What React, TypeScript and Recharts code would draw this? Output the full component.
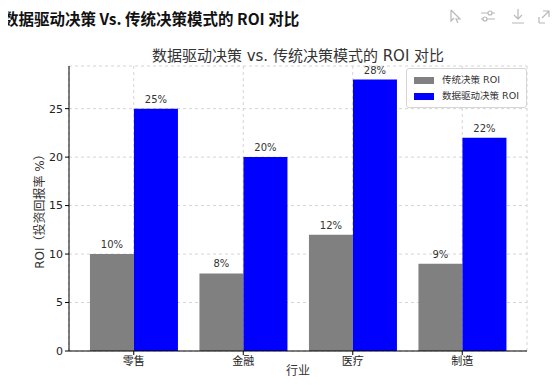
import {Bar, BarChart, CartesianGrid, Label, LabelList, XAxis, YAxis} from "recharts";

const industries = ['零售', '金融', '医疗', '制造'];
const traditionalRoi = [10, 8, 12, 9];
const dataDrivenRoi = [25, 20, 28, 22];
const yTicks = [0, 5, 10, 15, 20, 25];

const data = industries.map((name, i) => ({
    name,
    traditional: traditionalRoi[i],
    dataDriven: dataDrivenRoi[i],
}));

const font = '"DejaVu Sans", "Noto Sans CJK SC", sans-serif';

const LegendBox = () => (
    <div style={{
        position: 'absolute', right: 31, top: 68,
        border: '1px solid #d6d6d6', borderRadius: 3, background: 'rgba(255,255,255,0.8)',
        padding: '3px 7px', fontFamily: font, fontSize: 9.5, color: '#333', lineHeight: '16px'
    }}>
        <div style={{display: 'flex', alignItems: 'center'}}>
            <span style={{width: 20, height: 7, background: '#808080', marginRight: 8}}/>传统决策 ROI
        </div>
        <div style={{display: 'flex', alignItems: 'center'}}>
            <span style={{width: 20, height: 7, background: '#0000ff', marginRight: 8}}/>数据驱动决策 ROI
        </div>
    </div>
);

const Icons = () => (
    <svg width={110} height={20} style={{position: 'absolute', left: 446, top: 6}}>
        <g stroke="#b8b8b8" strokeWidth={1.2} fill="none">
            <path d="M5 4 L14 13 L10 13 L12 17 M5 4 L5 15 L8 12"/>
            <path d="M35 7 H49 M35 13 H49"/>
            <circle cx={44} cy={7} r={2} fill="#fff"/>
            <circle cx={39} cy={13} r={2} fill="#fff"/>
            <path d="M72 3 V13 M68 9 L72 13 L76 9 M66 17 H78"/>
            <path d="M97 5 H103 V11 M103 5 L96 12 M93 17 V11 M93 17 H99"/>
        </g>
    </svg>
);

export default function App() {
    return (
        <div style={{position: 'relative', width: 558, height: 385, margin: -8, background: '#fff', overflow: 'hidden'}}>
            <div style={{
                position: 'absolute', left: 3, top: 7, fontFamily: '"Noto Sans CJK SC", sans-serif',
                fontWeight: 700, fontSize: 15.5, color: '#111', whiteSpace: 'nowrap'
            }}>
                数据驱动决策 Vs. 传统决策模式的 ROI 对比
            </div>
            <Icons/>
            <div style={{
                position: 'absolute', left: 69, width: 458, top: 44, textAlign: 'center',
                fontFamily: font, fontSize: 15, color: '#333', whiteSpace: 'nowrap'
            }}>
                数据驱动决策 vs. 传统决策模式的 ROI 对比
            </div>
            <div style={{position: 'absolute', top: 0, left: 0}}>
                <BarChart width={558} height={385} data={data}
                          margin={{top: 66, right: 31, bottom: 1, left: 29}}
                          barCategoryGap="10%" barGap={0}>
                    <CartesianGrid strokeDasharray="3 3" stroke="#d4d4d4"/>
                    <XAxis dataKey="name" height={33} padding={{left: 10, right: 10}}
                           axisLine={{stroke: '#000'}} tickLine={{stroke: '#000'}} tickSize={4}
                           tick={{fill: '#222', fontSize: 11, fontFamily: font}}/>
                    <YAxis width={40} domain={[0, 29.4]} ticks={yTicks} interval={0}
                           axisLine={{stroke: '#000'}} tickLine={{stroke: '#000'}} tickSize={4}
                           tick={{fill: '#222', fontSize: 11, fontFamily: font}}>
                        <Label content={({viewBox}: any) => {
                            const x = viewBox.x + 11;
                            const y = viewBox.y + viewBox.height / 2;
                            return (
                                <text x={x} y={y} transform={`rotate(-90 ${x} ${y})`} textAnchor="middle"
                                      dominantBaseline="central" fill="#333" fontSize={12} fontFamily={font}>
                                    ROI（投资回报率 %）
                                </text>
                            );
                        }}/>
                    </YAxis>
                    <Bar dataKey="traditional" fill="#808080" isAnimationActive={false}>
                        <LabelList dataKey="traditional" position="top" offset={6}
                                   formatter={(v: any) => `${v}%`}
                                   style={{fill: '#333', fontSize: 10, fontFamily: font}}/>
                    </Bar>
                    <Bar dataKey="dataDriven" fill="#0000ff" isAnimationActive={false}>
                        <LabelList dataKey="dataDriven" position="top" offset={6}
                                   formatter={(v: any) => `${v}%`}
                                   style={{fill: '#333', fontSize: 10, fontFamily: font}}/>
                    </Bar>
                </BarChart>
            </div>
            <LegendBox/>
            <div style={{
                position: 'absolute', left: 69, width: 458, top: 364, textAlign: 'center',
                fontFamily: font, fontSize: 12, color: '#333', lineHeight: '14px'
            }}>
                行业
            </div>
        </div>
    );
}
